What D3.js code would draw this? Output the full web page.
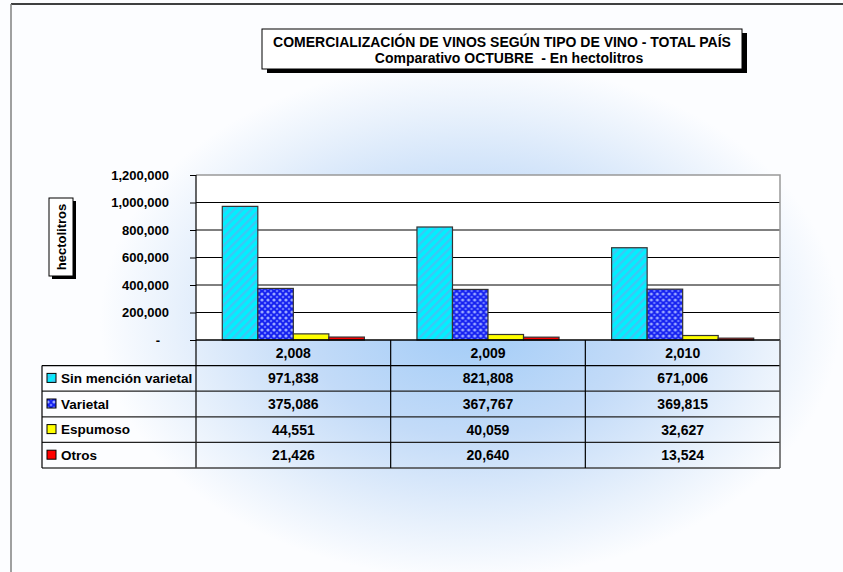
<!DOCTYPE html>
<html>
<head>
<meta charset="utf-8">
<title>Comercialización de vinos</title>
<script src="https://d3js.org/d3.v7.min.js"></script>
<style>
  body { margin: 0; background: #fff; }
  svg text { font-family: "Liberation Sans", Arial, sans-serif; font-weight: bold; fill: #000; white-space: pre; }
</style>
</head>
<body>
<div id="chart"></div>
<script>
// data
var years = ["2,008", "2,009", "2,010"];
var seriesNames = ["Sin mención varietal", "Varietal", "Espumoso", "Otros"];
var sinMencion = [971838, 821808, 671006];
var varietal = [375086, 367767, 369815];
var espumoso = [44551, 40059, 32627];
var otros = [21426, 20640, 13524];
var yTicks = [0, 200000, 400000, 600000, 800000, 1000000, 1200000];
var titleLines = ["COMERCIALIZACIÓN DE VINOS SEGÚN TIPO DE VINO - TOTAL PAÍS",
                  "Comparativo OCTUBRE  - En hectolitros"];
var yTitle = "hectolitros";

var values = [sinMencion, varietal, espumoso, otros];
var fills = ["url(#cyanStripe)", "url(#bluePlaid)", "#ffff00", "#ff0000"];

var width = 843, height = 572;
var plotLeft = 196, plotRight = 780, plotTop = 175, plotBottom = 340;
var tableLeft = 42, tableBottom = 468;

var svg = d3.select("#chart").append("svg")
    .attr("width", width)
    .attr("height", height);

var defs = svg.append("defs");

var glow = defs.append("radialGradient")
    .attr("id", "glow")
    .attr("gradientUnits", "userSpaceOnUse")
    .attr("cx", 470).attr("cy", 320).attr("r", 370)
    .attr("gradientTransform", "translate(470,320) scale(1,0.7) translate(-470,-320)");
glow.append("stop").attr("offset", "0%").attr("stop-color", "#a0cbf7");
glow.append("stop").attr("offset", "45%").attr("stop-color", "#c3dbf8");
glow.append("stop").attr("offset", "80%").attr("stop-color", "#e8f1fc");
glow.append("stop").attr("offset", "100%").attr("stop-color", "#fcfdff");

var stripe = defs.append("pattern")
    .attr("id", "cyanStripe")
    .attr("patternUnits", "userSpaceOnUse")
    .attr("width", 6).attr("height", 6)
    .attr("patternTransform", "rotate(45)");
stripe.append("rect").attr("width", 6).attr("height", 6).attr("fill", "#00f0ff");
stripe.append("rect").attr("width", 2.5).attr("height", 6).attr("fill", "#3cc8f4");

var plaid = defs.append("pattern")
    .attr("id", "bluePlaid")
    .attr("patternUnits", "userSpaceOnUse")
    .attr("width", 6).attr("height", 6);
plaid.append("rect").attr("width", 6).attr("height", 6).attr("fill", "#1420f0");
[[0, 0], [6, 0], [0, 6], [6, 6]].forEach(function (p) {
    plaid.append("circle").attr("cx", p[0]).attr("cy", p[1]).attr("r", 1.6).attr("fill", "#9aa8ff");
});
plaid.append("circle").attr("cx", 3).attr("cy", 3).attr("r", 1.3).attr("fill", "#6a78ff");

// background
svg.append("rect").attr("width", width).attr("height", height).attr("fill", "url(#glow)");
svg.append("line").attr("x1", 11).attr("x2", width).attr("y1", 4).attr("y2", 4)
    .attr("stroke", "#000").attr("stroke-width", 1.5);
svg.append("line").attr("x1", 11).attr("x2", 11).attr("y1", 4).attr("y2", height)
    .attr("stroke", "#808080").attr("stroke-width", 1.5);

// title box
svg.append("rect").attr("x", 267).attr("y", 33).attr("width", 480).attr("height", 40).attr("fill", "#000");
svg.append("rect").attr("x", 262).attr("y", 29).attr("width", 480).attr("height", 40)
    .attr("fill", "#fff").attr("stroke", "#000").attr("stroke-width", 1);
svg.append("text").attr("x", 502).attr("y", 47).attr("text-anchor", "middle")
    .style("font-size", "14px").text(titleLines[0]);
svg.append("text").attr("x", 509).attr("y", 63).attr("text-anchor", "middle")
    .style("font-size", "14px").text(titleLines[1]);

// scales
var y = d3.scaleLinear().domain([0, 1200000]).range([plotBottom, plotTop]);
var x0 = d3.scaleBand().domain(years).range([plotLeft, plotRight]);
var x1 = d3.scaleBand().domain(seriesNames).range([0, x0.bandwidth()])
    .paddingInner(0).paddingOuter(0.74);

// plot area
svg.append("rect")
    .attr("x", plotLeft).attr("y", plotTop)
    .attr("width", plotRight - plotLeft).attr("height", plotBottom - plotTop)
    .attr("fill", "#fff");

svg.append("g").selectAll("line")
    .data(yTicks.filter(function (d) { return d > 0 && d < 1200000; }))
    .join("line")
    .attr("x1", plotLeft).attr("x2", plotRight)
    .attr("y1", function (d) { return y(d); })
    .attr("y2", function (d) { return y(d); })
    .attr("stroke", "#000").attr("stroke-width", 1);

svg.append("path")
    .attr("d", "M" + plotLeft + "," + plotTop + "H" + plotRight + "V" + plotBottom)
    .attr("fill", "none").attr("stroke", "#999").attr("stroke-width", 1.5);

// bars
var groups = svg.append("g").selectAll("g")
    .data(years)
    .join("g")
    .attr("transform", function (d) { return "translate(" + x0(d) + ",0)"; });

groups.selectAll("rect")
    .data(function (d, i) {
        return seriesNames.map(function (s, j) { return { name: s, value: values[j][i], k: j }; });
    })
    .join("rect")
    .attr("x", function (d) { return x1(d.name); })
    .attr("y", function (d) { return y(d.value); })
    .attr("width", x1.bandwidth())
    .attr("height", function (d) { return plotBottom - y(d.value); })
    .attr("fill", function (d) { return fills[d.k]; })
    .attr("stroke", "#333")
    .attr("stroke-width", 1.2);

// y axis
var yAxis = d3.axisLeft(y)
    .tickValues(yTicks)
    .tickSizeInner(6).tickSizeOuter(0)
    .tickPadding(21)
    .tickFormat(function (d) { return d === 0 ? "-" : d3.format(",")(d); });

var ya = svg.append("g")
    .attr("transform", "translate(" + plotLeft + ",0)")
    .call(yAxis);
ya.select(".domain").remove();
ya.selectAll("line").attr("stroke", "#000");
ya.selectAll("text").style("font-size", "13px").attr("fill", "#000");
ya.selectAll(".tick").filter(function (d) { return d === 0; }).select("text").attr("dx", -9);

svg.append("line").attr("x1", plotLeft).attr("x2", plotLeft)
    .attr("y1", plotTop).attr("y2", tableBottom)
    .attr("stroke", "#000").attr("stroke-width", 1.2);

// y title box
svg.append("rect").attr("x", 52).attr("y", 201).attr("width", 24).attr("height", 78).attr("fill", "#000");
svg.append("rect").attr("x", 49).attr("y", 198).attr("width", 24).attr("height", 78)
    .attr("fill", "#fff").attr("stroke", "#000").attr("stroke-width", 1);
svg.append("text")
    .attr("transform", "translate(66,237) rotate(-90)")
    .attr("text-anchor", "middle")
    .style("font-size", "13px")
    .text(yTitle);

// data table
var rowY = d3.scaleBand().domain(["header"].concat(seriesNames)).range([plotBottom, tableBottom]);
var tbl = svg.append("g");

tbl.append("line").attr("x1", plotLeft).attr("x2", plotRight)
    .attr("y1", plotBottom).attr("y2", plotBottom).attr("stroke", "#000").attr("stroke-width", 1.5);
seriesNames.forEach(function (s, i) {
    tbl.append("line")
        .attr("x1", tableLeft).attr("x2", plotRight)
        .attr("y1", rowY(s)).attr("y2", rowY(s))
        .attr("stroke", i === 0 ? "#000" : "#222").attr("stroke-width", 1.2);
});
tbl.append("line").attr("x1", tableLeft).attr("x2", plotRight)
    .attr("y1", tableBottom).attr("y2", tableBottom).attr("stroke", "#444").attr("stroke-width", 1.5);

tbl.append("line").attr("x1", tableLeft).attr("x2", tableLeft)
    .attr("y1", rowY(seriesNames[0])).attr("y2", tableBottom).attr("stroke", "#000").attr("stroke-width", 1.2);
years.forEach(function (yr, i) {
    tbl.append("line").attr("x1", x0(yr) + x0.bandwidth()).attr("x2", x0(yr) + x0.bandwidth())
        .attr("y1", plotBottom).attr("y2", tableBottom)
        .attr("stroke", i === years.length - 1 ? "#555" : "#000")
        .attr("stroke-width", i === years.length - 1 ? 1.5 : 1.2);
});

tbl.selectAll(".yr")
    .data(years)
    .join("text")
    .attr("x", function (d) { return x0(d) + x0.bandwidth() / 2; })
    .attr("y", rowY("header") + rowY.bandwidth() / 2)
    .attr("dy", "0.36em")
    .attr("text-anchor", "middle")
    .style("font-size", "14px")
    .text(function (d) { return d; });

var fmt = d3.format(",");
seriesNames.forEach(function (s, j) {
    var cy = rowY(s) + rowY.bandwidth() / 2;
    tbl.append("rect")
        .attr("x", 47).attr("y", cy - 5).attr("width", 9).attr("height", 9)
        .attr("fill", fills[j]).attr("stroke", "#000").attr("stroke-width", 1);
    tbl.append("text")
        .attr("x", 61).attr("y", cy).attr("dy", "0.36em")
        .style("font-size", "13.5px")
        .text(s);
    years.forEach(function (yr, i) {
        tbl.append("text")
            .attr("x", x0(yr) + x0.bandwidth() / 2)
            .attr("y", cy).attr("dy", "0.36em")
            .attr("text-anchor", "middle")
            .style("font-size", "14px")
            .text(fmt(values[j][i]));
    });
});
</script>
</body>
</html>
